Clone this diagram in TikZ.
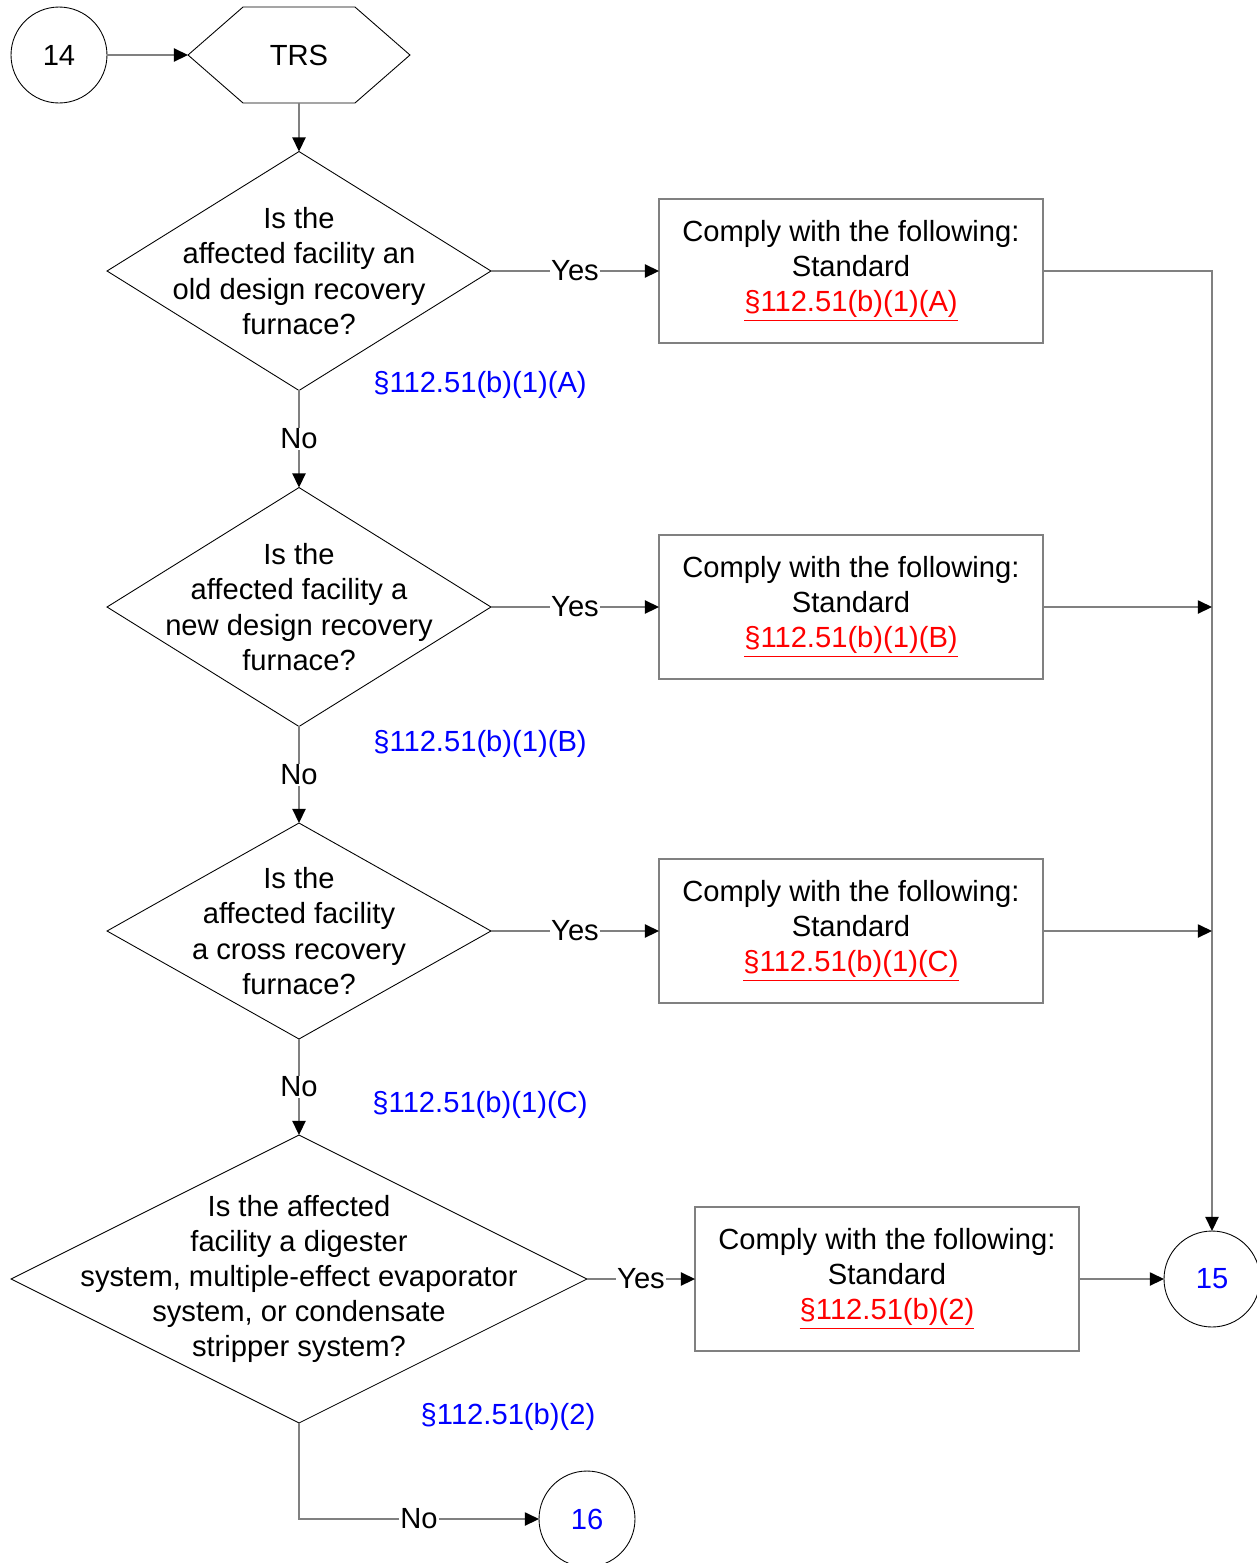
\documentclass[tikz,border=0pt]{standalone}
\usepackage{fontspec}
\setmainfont{Liberation Sans}
\usetikzlibrary{shapes.geometric, arrows.meta, positioning, calc}

\begin{document}
\begin{tikzpicture}[
        x=0.02cm, y=-0.02cm,
        font=\fontsize{16.6}{20}\selectfont,
        link/.style={draw=gray, line width=0.8pt, -{Triangle[length=8pt, width=7.5pt, color=black]}},
        decision/.style={diamond, draw, line width=0.5pt, inner sep=0pt, outer sep=0pt, minimum width=7.68cm, minimum height=4.78cm},
        action/.style={rectangle, draw=gray, line width=0.8pt, inner sep=0pt, outer sep=0pt, minimum width=7.68cm, minimum height=2.88cm, align=center},
        onpage/.style={circle, draw, line width=0.5pt, inner sep=0pt, outer sep=0pt, minimum size=1.92cm},
        answer/.style={fill=white, inner sep=0.6pt},
        ref/.style={text=blue}
    ]
        \useasboundingbox (0,0) rectangle (1257,1563);

        % start
        \node[onpage] (c14) at (59,55) {14};
        \node[minimum width=4.44cm, minimum height=1.92cm, inner sep=0pt, outer sep=0pt] (trs) at (299,55) {TRS};
        \draw[line width=0.5pt] (trs.west) -- ($(trs.north west)+(55,0)$) -- ($(trs.north east)+(-55,0)$) -- (trs.east)
            -- ($(trs.south east)+(-55,0)$) -- ($(trs.south west)+(55,0)$) -- cycle;

        % questions
        \node[decision] (d1) at (299,271) {};
        \node[align=center] (t1) at (d1) {Is the\\affected facility an\\old design recovery\\furnace?};
        \node[decision] (d2) at (299,607) {};
        \node[align=center] (t2) at (d2) {Is the\\affected facility a\\new design recovery\\furnace?};
        \node[decision, minimum height=4.32cm] (d3) at (299,931) {};
        \node[align=center] (t3) at (d3) {Is the\\affected facility\\a cross recovery\\furnace?};
        \node[decision, minimum width=11.52cm, minimum height=5.76cm] (d4) at (299,1279) {};
        \node[align=center] (t4) at (d4) {Is the affected\\facility a digester\\system, multiple-effect evaporator\\system, or condensate\\stripper system?};

        % rule references
        \node[ref] (r1) at (480,385) {§112.51(b)(1)(A)};
        \node[ref] (r2) at (480,744) {§112.51(b)(1)(B)};
        \node[ref] (r3) at (480,1105) {§112.51(b)(1)(C)};
        \node[ref] (r4) at (508,1417) {§112.51(b)(2)};

        % standards
        \node[action] (b1) at (851,271) {Comply with the following:\\Standard\\\textcolor{red}{\underline{§112.51(b)(1)(A)}}};
        \node[action] (b2) at (851,607) {Comply with the following:\\Standard\\\textcolor{red}{\underline{§112.51(b)(1)(B)}}};
        \node[action] (b3) at (851,931) {Comply with the following:\\Standard\\\textcolor{red}{\underline{§112.51(b)(1)(C)}}};
        \node[action] (b4) at (887,1279) {Comply with the following:\\Standard\\\textcolor{red}{\underline{§112.51(b)(2)}}};

        % off-page
        \node[onpage, text=blue] (c15) at (1212,1279) {15};
        \node[onpage, text=blue] (c16) at (587,1519) {16};

        % flow
        \draw[link] (c14) -- (trs.west);
        \draw[link] (trs.south) -- (d1.north);
        \draw[link] (d1.east) -- node[answer] {Yes} (b1.west);
        \draw[link] (d2.east) -- node[answer] {Yes} (b2.west);
        \draw[link] (d3.east) -- node[answer] {Yes} (b3.west);
        \draw[link] (d4.east) -- node[answer] {Yes} (b4.west);
        \draw[link] (d1.south) -- node[answer] {No} (d2.north);
        \draw[link] (d2.south) -- node[answer] {No} (d3.north);
        \draw[link] (d3.south) -- node[answer] {No} (d4.north);
        \draw[link] (d4.south) |- node[answer, pos=0.75] {No} (c16.west);
        \draw[link] (b1.east) -| (c15.north);
        \draw[link] (b2.east) -- (b2.east -| c15.north);
        \draw[link] (b3.east) -- (b3.east -| c15.north);
        \draw[link] (b4.east) -- (c15.west);

    \end{tikzpicture}
\end{document}
